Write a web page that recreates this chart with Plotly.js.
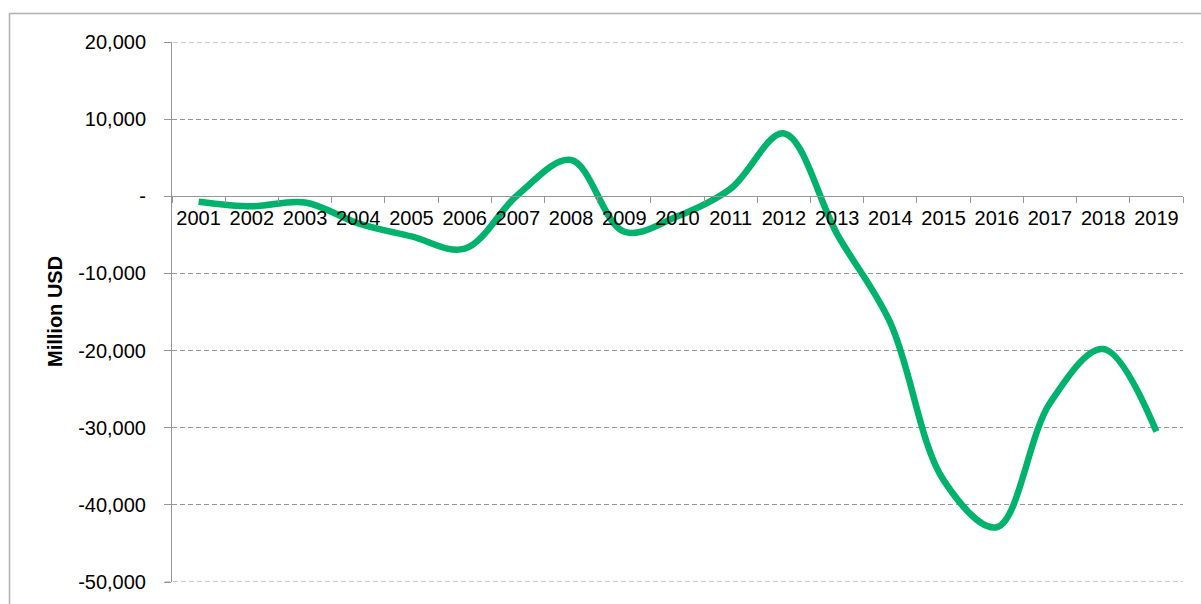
<!DOCTYPE html>
<html>
<head>
<meta charset="utf-8">
<script src="https://cdn.plot.ly/plotly-3.0.1.min.js"></script>
<style>html,body{margin:0;padding:0;background:#fff;}#chart{width:1201px;height:604px;}</style>
</head>
<body>
<div id="chart"></div>
<script>
const years = ["2001","2002","2003","2004","2005","2006","2007","2008","2009","2010","2011","2012","2013","2014","2015","2016","2017","2018","2019"];
const balance = [-700,-1300,-800,-3500,-5200,-6800,200,4700,-4600,-2600,1000,8150,-4900,-16400,-36800,-42900,-26800,-19800,-30500];
const yTickVals = [20000,10000,0,-10000,-20000,-30000,-40000,-50000];
const yTickText = ["20,000","10,000","-","-10,000","-20,000","-30,000","-40,000","-50,000"];
const yTitle = "Million USD";

const trace = {
  x: years, y: balance, type: 'scatter', mode: 'lines',
  line: {color: '#00b26b', width: 6.5, shape: 'spline', smoothing: 1},
  hoverinfo: 'x+y'
};

const L = 172, R = 1183, T = 42, B = 582;
const pw = R - L, ph = B - T;
const yMax = yTickVals[0], yMin = yTickVals[yTickVals.length - 1];

// dashed gridlines at the two range ends (Plotly omits grid lines on the range edges)
const edgeGrid = [yMax, yMin].map(v => ({
  type: 'line', xref: 'paper', yref: 'y', x0: -7 / pw, x1: 1, y0: v, y1: v,
  line: {color: '#969696', width: 1, dash: '5px,3px'}, layer: 'below'
}));

const layout = {
  width: 1201, height: 604,
  margin: {l: L, r: 1201 - R, t: T, b: 604 - B, pad: 0},
  paper_bgcolor: '#fff', plot_bgcolor: '#fff',
  showlegend: false,
  font: {family: 'Liberation Sans, Arial, sans-serif', color: '#000', size: 20},
  xaxis: {
    type: 'category', range: [-0.5, 18.5],
    anchor: 'free', position: (0 - yMin) / (yMax - yMin),
    showline: true, linecolor: '#969696', linewidth: 1,
    ticks: 'outside', ticklen: 6, tickcolor: '#969696', tickson: 'boundaries',
    showgrid: false, zeroline: false, tickangle: 0,
    tickfont: {size: 20, color: '#000'},
    ticklabelstandoff: 4
  },
  yaxis: {
    range: [yMin, yMax],
    tickvals: yTickVals, ticktext: yTickText,
    showline: true, linecolor: '#969696', linewidth: 1,
    ticks: 'outside', ticklen: 7, tickcolor: '#969696',
    showgrid: true, gridcolor: '#969696', gridwidth: 1, griddash: '5px,3px',
    zeroline: false,
    tickfont: {size: 20, color: '#000'},
    ticklabelstandoff: 14
  },
  annotations: [{
    text: '<b>' + yTitle + '</b>', xref: 'paper', yref: 'paper',
    x: (55 - L) / pw, y: (B - 312) / ph, textangle: -90,
    showarrow: false, font: {size: 20, color: '#000'},
    xanchor: 'center', yanchor: 'middle'
  }],
  shapes: [{
    type: 'rect', xref: 'paper', yref: 'paper', layer: 'below',
    x0: (9.5 - L) / pw, x1: 1.2, y0: -0.2, y1: (B - 13.5) / ph,
    line: {color: '#b0b0b0', width: 1.5}, fillcolor: 'rgba(0,0,0,0)'
  }].concat(edgeGrid)
};

Plotly.newPlot('chart', [trace], layout, {displayModeBar: false, staticPlot: true});
</script>
</body>
</html>
